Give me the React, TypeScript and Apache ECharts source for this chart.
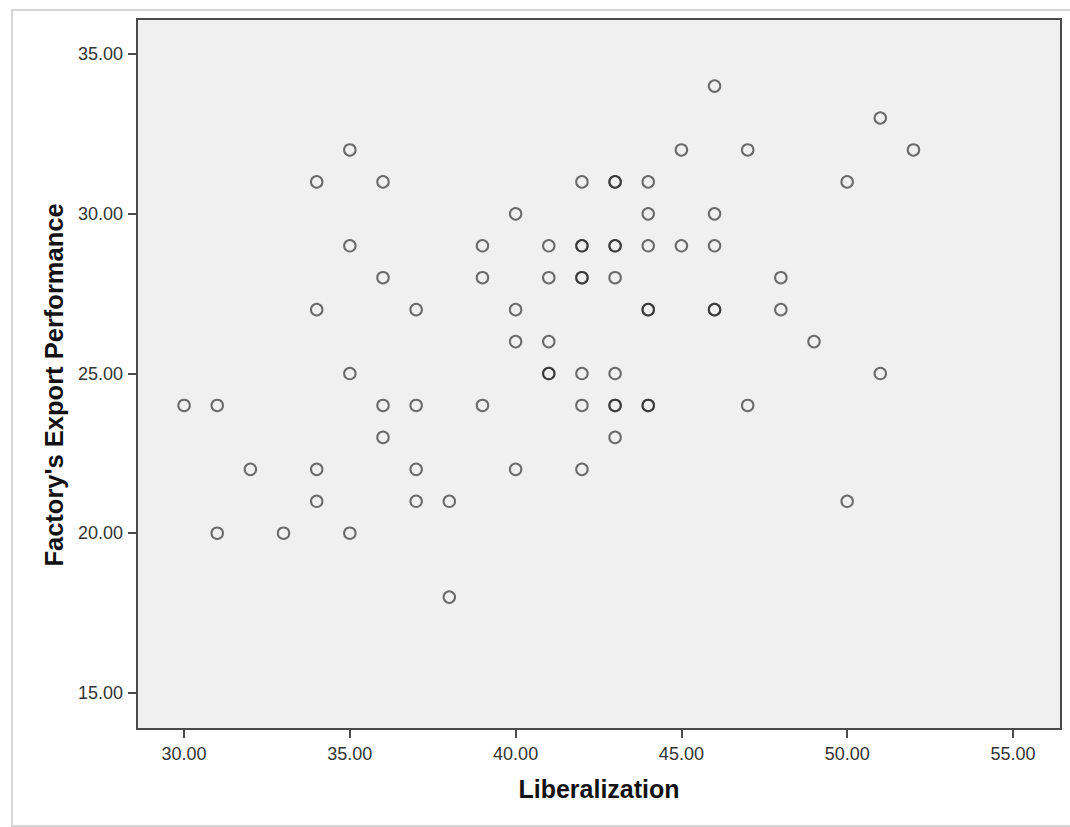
import React, { useEffect, useRef } from "react";
import * as echarts from "echarts";

// Liberalization (x) and Factory's Export Performance (y); repeated pairs are overlapping cases
const liberalization = [
  30, 31, 31, 32, 33, 34, 34, 34, 34, 35, 35, 35, 35, 36, 36, 36, 36,
  37, 37, 37, 37, 38, 38, 39, 39, 39, 40, 40, 40, 40,
  41, 41, 41, 41, 41,
  42, 42, 42, 42, 42, 42, 42, 42,
  43, 43, 43, 43, 43, 43, 43, 43, 43,
  44, 44, 44, 44, 44, 44, 44,
  45, 45, 46, 46, 46, 46, 46, 47, 47, 48, 48, 49, 50, 50, 51, 51, 52,
];
const exportPerformance = [
  24, 24, 20, 22, 20, 31, 27, 22, 21, 32, 29, 25, 20, 31, 28, 24, 23,
  27, 24, 22, 21, 21, 18, 29, 28, 24, 30, 27, 26, 22,
  29, 28, 26, 25, 25,
  31, 29, 29, 28, 28, 25, 24, 22,
  31, 31, 29, 29, 28, 25, 24, 24, 23,
  31, 30, 29, 27, 27, 24, 24,
  32, 29, 34, 30, 29, 27, 27, 32, 24, 28, 27, 26, 31, 21, 33, 25, 32,
];

const xTicks = [30, 35, 40, 45, 50, 55];
const yTicks = [15, 20, 25, 30, 35];

export default function App() {
  const ref = useRef<HTMLDivElement>(null);

  useEffect(() => {
    if (!ref.current) return;
    const chart = echarts.init(ref.current, undefined, { renderer: "svg" });
    const data = liberalization.map((x, i) => [x, exportPerformance[i]]);
    const font = "'Liberation Sans', Arial, sans-serif";
    chart.setOption({
      animation: false,
      backgroundColor: "#ffffff",
      graphic: [
        {
          type: "rect",
          z: -10,
          silent: true,
          shape: { x: 12, y: 10, width: 1070, height: 816 },
          style: { fill: "#ffffff", stroke: "#d6d6d6", lineWidth: 2 },
        },
      ],
      grid: {
        left: 137,
        top: 19,
        right: 9,
        bottom: 98,
        show: true,
        backgroundColor: "#f0f0f0",
        borderColor: "#4a4a4a",
        borderWidth: 2,
      },
      xAxis: {
        type: "value",
        min: 28.58,
        max: 56.45,
        name: "Liberalization",
        nameLocation: "middle",
        nameGap: 47,
        nameTextStyle: { fontFamily: font, fontWeight: "bold", fontSize: 25, color: "#111" },
        axisLine: { show: true, lineStyle: { color: "#4a4a4a", width: 2 } },
        axisTick: { show: true, customValues: xTicks, length: 9, lineStyle: { color: "#4a4a4a", width: 2 } },
        axisLabel: {
          customValues: xTicks,
          formatter: (v: number) => v.toFixed(2),
          fontFamily: font,
          fontSize: 18,
          color: "#333333",
          margin: 16,
        },
        splitLine: { show: false },
      },
      yAxis: {
        type: "value",
        min: 13.87,
        max: 36.1,
        name: "Factory's Export Performance",
        nameLocation: "middle",
        nameGap: 69,
        nameTextStyle: {
          fontFamily: font,
          fontWeight: "bold",
          fontSize: 25.5,
          color: "#111",
          padding: [0, 22, 0, 0],
        },
        axisLine: { show: true, lineStyle: { color: "#4a4a4a", width: 2 } },
        axisTick: { show: true, customValues: yTicks, length: 9, lineStyle: { color: "#4a4a4a", width: 2 } },
        axisLabel: {
          customValues: yTicks,
          formatter: (v: number) => v.toFixed(2),
          fontFamily: font,
          fontSize: 18,
          color: "#333333",
          margin: 14,
        },
        splitLine: { show: false },
      },
      series: [
        {
          type: "scatter",
          data,
          symbol: "circle",
          symbolSize: 11.5,
          itemStyle: {
            color: "rgba(0,0,0,0)",
            borderColor: "rgba(30,30,30,0.8)",
            borderWidth: 2,
          },
        },
      ],
    });
    return () => chart.dispose();
  }, []);

  return (
    <div
      ref={ref}
      style={{ position: "fixed", left: 0, top: 0, width: 1070, height: 827 }}
    />
  );
}
